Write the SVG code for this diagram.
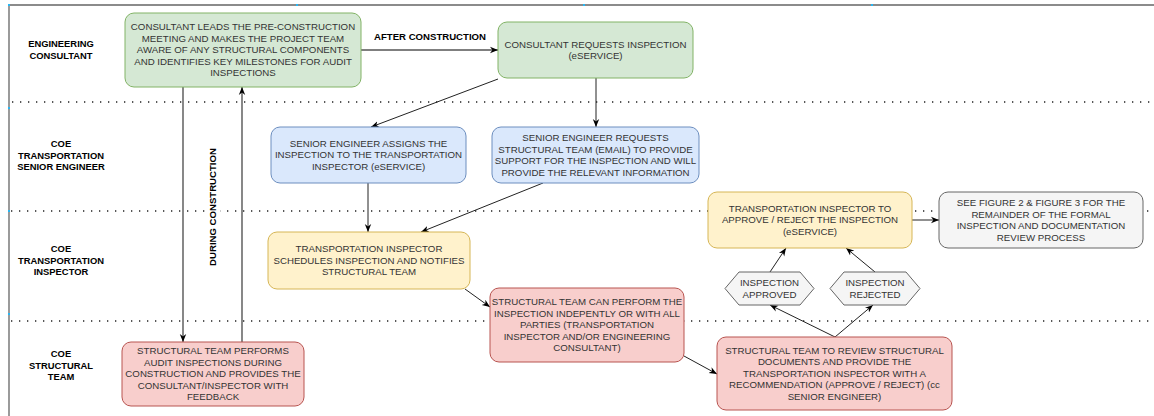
<svg xmlns="http://www.w3.org/2000/svg" width="1154" height="416" viewBox="0 0 1154 416">
<style>
  .lane { font-family: "Liberation Sans", Arial, sans-serif; font-size: 9.4px; font-weight: bold; fill: #000; text-anchor: middle; }
  .t { font-family: "Liberation Sans", Arial, sans-serif; font-size: 9.7px; fill: #333; text-anchor: middle; }
  .lbl { font-family: "Liberation Sans", Arial, sans-serif; font-size: 9.6px; font-weight: bold; fill: #000; text-anchor: middle; }
  .green { fill: #d5e8d4; stroke: #82b366; stroke-width: 1; }
  .blue { fill: #dae8fc; stroke: #6c8ebf; stroke-width: 1; }
  .yellow { fill: #fff2cc; stroke: #d6b656; stroke-width: 1; }
  .red { fill: #f8cecc; stroke: #b85450; stroke-width: 1; }
  .gray { fill: #f5f5f5; stroke: #666666; stroke-width: 1; }
  .dots { stroke: #222; stroke-width: 1.3; stroke-dasharray: 1.3 6.7; fill: none; }
  .edge { stroke: #222; stroke-width: 1; fill: none; marker-end: url(#arr); }
  .edge2 { stroke: #555; stroke-width: 1.4; fill: none; marker-end: url(#arr); }
  .frame { stroke: #666; stroke-width: 1.3; fill: none; }
  .handle { fill: #29b6f2; }
</style>
<defs>
  <marker id="arr" viewBox="0 0 10 10" refX="10" refY="5" markerWidth="8" markerHeight="8" markerUnits="userSpaceOnUse" orient="auto">
    <path d="M0,1 L10,5 L0,9 L3,5 Z" fill="#000"/>
  </marker>
</defs>
<rect x="0" y="0" width="1154" height="416" fill="#fff"/>

<g id="frame">
  <path class="frame" d="M9,416 L9,5 L1154,5"/>
  <rect class="handle" x="8" y="4" width="2" height="2"/>
  <rect class="handle" x="296" y="4" width="2" height="2"/>
  <rect class="handle" x="583" y="4" width="2" height="2"/>
  <rect class="handle" x="871" y="4" width="2" height="2"/>
  <rect class="handle" x="8" y="107" width="2" height="2"/>
  <rect class="handle" x="8" y="210" width="2" height="2"/>
  <rect class="handle" x="8" y="313" width="2" height="2"/>
</g>

<g id="lane-separators">
  <line class="dots" x1="12" y1="102" x2="1154" y2="102"/>
  <line class="dots" x1="11" y1="211" x2="1154" y2="211"/>
  <line class="dots" x1="11" y1="321" x2="1154" y2="321"/>
</g>

<g id="lane-labels">
  <text class="lane" x="61" y="47.3">ENGINEERING</text>
  <text class="lane" x="61" y="59.3">CONSULTANT</text>
  <text class="lane" x="61" y="147.3">COE</text>
  <text class="lane" x="61" y="158.8">TRANSPORTATION</text>
  <text class="lane" x="61" y="170.3">SENIOR ENGINEER</text>
  <text class="lane" x="61" y="252.3">COE</text>
  <text class="lane" x="61" y="263.8">TRANSPORTATION</text>
  <text class="lane" x="61" y="275.3">INSPECTOR</text>
  <text class="lane" x="61" y="357.3">COE</text>
  <text class="lane" x="61" y="368.8">STRUCTURAL</text>
  <text class="lane" x="61" y="380.3">TEAM</text>
</g>

<g id="connectors">
  <line class="edge2" x1="361" y1="50" x2="498" y2="50"/>
  <line class="edge" x1="498" y1="79" x2="371" y2="127"/>
  <line class="edge" x1="596" y1="78" x2="596" y2="127"/>
  <line class="edge" x1="368" y1="183" x2="368" y2="232"/>
  <line class="edge" x1="543" y1="183" x2="421" y2="232"/>
  <line class="edge" x1="465" y1="289" x2="490" y2="307"/>
  <line class="edge2" x1="183" y1="87" x2="183" y2="342"/>
  <line class="edge2" x1="242" y1="342" x2="242" y2="87"/>
  <line class="edge" x1="684" y1="356" x2="717" y2="374"/>
  <line class="edge" x1="835" y1="337" x2="770" y2="305"/>
  <line class="edge" x1="835" y1="337" x2="873" y2="305"/>
  <line class="edge" x1="770" y1="272" x2="786" y2="248"/>
  <line class="edge" x1="875" y1="272" x2="846" y2="248"/>
  <line class="edge" x1="912" y1="220" x2="939" y2="220"/>
  <text class="lbl" x="430" y="40.3">AFTER CONSTRUCTION</text>
  <rect x="206" y="146" width="14" height="122" fill="#fff"/>
  <text class="lbl" transform="translate(216.4,207) rotate(-90)" x="0" y="0">DURING CONSTRUCTION</text>
</g>

<g id="n-preconstruction">
  <rect class="green" x="125" y="13" width="236" height="74" rx="9"/>
  <text class="t" x="243" y="30.4">CONSULTANT LEADS THE PRE-CONSTRUCTION</text>
  <text class="t" x="243" y="41.9">MEETING AND MAKES THE PROJECT TEAM</text>
  <text class="t" x="243" y="53.4">AWARE OF ANY STRUCTURAL COMPONENTS</text>
  <text class="t" x="243" y="64.9">AND IDENTIFIES KEY MILESTONES FOR AUDIT</text>
  <text class="t" x="243" y="76.4">INSPECTIONS</text>
</g>

<g id="n-request">
  <rect class="green" x="498" y="22" width="195" height="56" rx="9"/>
  <text class="t" x="595.5" y="47.6">CONSULTANT REQUESTS INSPECTION</text>
  <text class="t" x="595.5" y="59.1">(eSERVICE)</text>
</g>

<g id="n-assign">
  <rect class="blue" x="271" y="127" width="195" height="56" rx="9"/>
  <text class="t" x="368.5" y="146.9">SENIOR ENGINEER ASSIGNS THE</text>
  <text class="t" x="368.5" y="158.4">INSPECTION TO THE TRANSPORTATION</text>
  <text class="t" x="368.5" y="169.9">INSPECTOR (eSERVICE)</text>
</g>

<g id="n-support">
  <rect class="blue" x="492" y="127" width="207" height="56" rx="9"/>
  <text class="t" x="595.5" y="141.1">SENIOR ENGINEER REQUESTS</text>
  <text class="t" x="595.5" y="152.6">STRUCTURAL TEAM (EMAIL) TO PROVIDE</text>
  <text class="t" x="595.5" y="164.1">SUPPORT FOR THE INSPECTION AND WILL</text>
  <text class="t" x="595.5" y="175.6">PROVIDE THE RELEVANT INFORMATION</text>
</g>

<g id="n-schedule">
  <rect class="yellow" x="268" y="232" width="202" height="57" rx="9"/>
  <text class="t" x="369" y="252.4">TRANSPORTATION INSPECTOR</text>
  <text class="t" x="369" y="263.9">SCHEDULES INSPECTION AND NOTIFIES</text>
  <text class="t" x="369" y="275.4">STRUCTURAL TEAM</text>
</g>

<g id="n-audit">
  <rect class="red" x="122" y="342" width="182" height="64" rx="9"/>
  <text class="t" x="213" y="354.4">STRUCTURAL TEAM PERFORMS</text>
  <text class="t" x="213" y="365.9">AUDIT INSPECTIONS DURING</text>
  <text class="t" x="213" y="377.4">CONSTRUCTION AND PROVIDES THE</text>
  <text class="t" x="213" y="388.9">CONSULTANT/INSPECTOR WITH</text>
  <text class="t" x="213" y="400.4">FEEDBACK</text>
</g>

<g id="n-perform">
  <rect class="red" x="490" y="288" width="194" height="74" rx="9"/>
  <text class="t" x="587" y="305.4">STRUCTURAL TEAM CAN PERFORM THE</text>
  <text class="t" x="587" y="316.9">INSPECTION INDEPENTLY OR WITH ALL</text>
  <text class="t" x="587" y="328.4">PARTIES (TRANSPORTATION</text>
  <text class="t" x="587" y="339.9">INSPECTOR AND/OR ENGINEERING</text>
  <text class="t" x="587" y="351.4">CONSULTANT)</text>
</g>

<g id="n-review">
  <rect class="red" x="717" y="337" width="235" height="73" rx="9"/>
  <text class="t" x="834.5" y="353.9">STRUCTURAL TEAM TO REVIEW STRUCTURAL</text>
  <text class="t" x="834.5" y="365.4">DOCUMENTS AND PROVIDE THE</text>
  <text class="t" x="834.5" y="376.9">TRANSPORTATION INSPECTOR WITH A</text>
  <text class="t" x="834.5" y="388.4">RECOMMENDATION (APPROVE / REJECT) (cc</text>
  <text class="t" x="834.5" y="399.9">SENIOR ENGINEER)</text>
</g>

<g id="n-approved">
  <polygon class="gray" points="725,288.5 739,272 800,272 814,288.5 800,305 739,305"/>
  <text class="t" x="769.5" y="286.1">INSPECTION</text>
  <text class="t" x="769.5" y="297.6">APPROVED</text>
</g>

<g id="n-rejected">
  <polygon class="gray" points="830,288.5 844,272 906,272 920,288.5 906,305 844,305"/>
  <text class="t" x="875" y="286.1">INSPECTION</text>
  <text class="t" x="875" y="297.6">REJECTED</text>
</g>

<g id="n-decide">
  <rect class="yellow" x="708" y="192" width="204" height="56" rx="9"/>
  <text class="t" x="810" y="211.9">TRANSPORTATION INSPECTOR TO</text>
  <text class="t" x="810" y="223.4">APPROVE / REJECT THE INSPECTION</text>
  <text class="t" x="810" y="234.9">(eSERVICE)</text>
</g>

<g id="n-seefigure">
  <rect class="gray" x="939" y="192" width="204" height="56" rx="9"/>
  <text class="t" x="1041" y="206.1">SEE FIGURE 2 &amp; FIGURE 3 FOR THE</text>
  <text class="t" x="1041" y="217.6">REMAINDER OF THE FORMAL</text>
  <text class="t" x="1041" y="229.1">INSPECTION AND DOCUMENTATION</text>
  <text class="t" x="1041" y="240.6">REVIEW PROCESS</text>
</g>
</svg>
